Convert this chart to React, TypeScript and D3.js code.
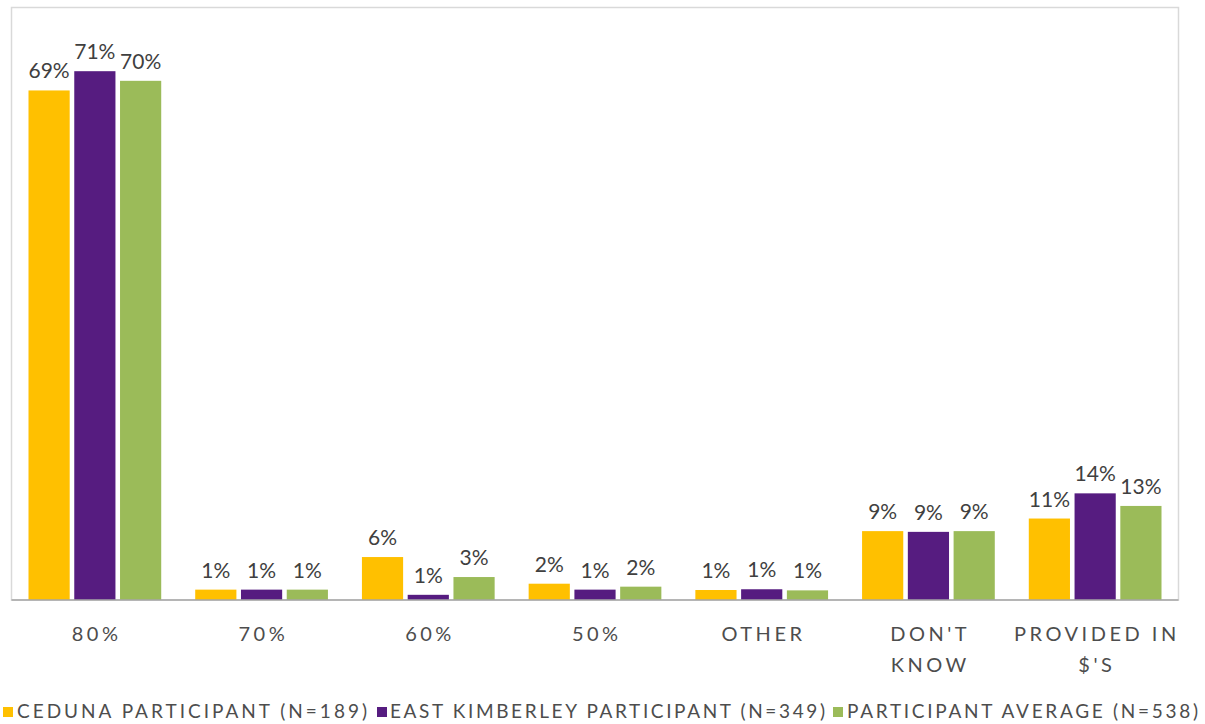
import React from "react";
import * as d3 from "d3";

const categories = ["80%", "70%", "60%", "50%", "OTHER", "DON'T|KNOW", "PROVIDED IN|$'S"];
const seriesNames = [
  "CEDUNA PARTICIPANT (N=189)",
  "EAST KIMBERLEY PARTICIPANT (N=349)",
  "PARTICIPANT AVERAGE (N=538)",
];
const seriesColors = ["#FFC000", "#561C80", "#9BBB59"];
const ceduna = [68.8, 1.4, 5.8, 2.2, 1.35, 9.3, 11.0];
const eastKimberley = [71.4, 1.4, 0.7, 1.4, 1.45, 9.2, 14.4];
const average = [70.1, 1.4, 3.1, 1.8, 1.3, 9.3, 12.7];
const seriesValues = [ceduna, eastKimberley, average];
const yMax = 80;

const W = 1205;
const H = 724;
const plotLeft = 11.5;
const plotRight = 1178.5;
const plotTop = 7.5;
const plotBottom = 600;

const legendLayout = [
  { mx: 3, tx: 17, tw: 350 },
  { mx: 377, tx: 390, tw: 435 },
  { mx: 833, tx: 847, tw: 351 },
];

export default function App() {
  const x0 = d3.scaleBand<string>().domain(categories).range([plotLeft, plotRight]).paddingInner(0).paddingOuter(0);
  const inner = 17;
  const x1 = d3
    .scaleBand<number>()
    .domain([0, 1, 2])
    .range([inner, x0.bandwidth() - inner])
    .paddingInner(0.1);
  const y = d3.scaleLinear().domain([0, yMax]).range([plotBottom, plotTop]);
  const fmt = (v: number) => `${Math.round(v)}%`;
  const font = "Lato, 'Open Sans', sans-serif";

  return (
    <svg
      width={W}
      height={H}
      style={{ position: "absolute", left: 0, top: 0, background: "#fff" }}
      fontFamily={font}
    >
      <rect x={0} y={0} width={W} height={H} fill="#fff" />
      <rect
        x={plotLeft}
        y={plotTop}
        width={plotRight - plotLeft}
        height={plotBottom - plotTop}
        fill="none"
        stroke="#d9d9d9"
        strokeWidth={1.5}
      />
      {categories.map((c, ci) => (
        <g key={c} transform={`translate(${x0(c)},0)`}>
          {seriesValues.map((vals, si) => {
            const v = vals[ci];
            const bx = x1(si)!;
            const bw = x1.bandwidth();
            return (
              <g key={si}>
                <rect x={bx} y={y(v)} width={bw} height={plotBottom - y(v)} fill={seriesColors[si]} />
                <text
                  x={bx + bw / 2}
                  y={y(v) - 12}
                  textAnchor="middle"
                  fontSize={21}
                  fill="#404040"
                >
                  {fmt(v)}
                </text>
              </g>
            );
          })}
          {c.split("|").map((line, li) => (
            <text
              key={li}
              x={x0.bandwidth() / 2 + 1.75}
              y={641 + li * 31}
              textAnchor="middle"
              fontSize={20}
              letterSpacing={3.5}
              fill="#4d4d4d"
            >
              {line}
            </text>
          ))}
        </g>
      ))}
      <line x1={plotLeft} x2={plotRight} y1={plotBottom} y2={plotBottom} stroke="#a6a6a6" strokeWidth={1.5} />
      {seriesNames.map((name, i) => (
        <g key={name}>
          <rect x={legendLayout[i].mx} y={707} width={10} height={10} fill={seriesColors[i]} />
          <text
            x={legendLayout[i].tx}
            y={718}
            fontSize={19}
            fill="#4d4d4d"
            textLength={legendLayout[i].tw}
            lengthAdjust="spacing"
          >
            {name}
          </text>
        </g>
      ))}
    </svg>
  );
}
